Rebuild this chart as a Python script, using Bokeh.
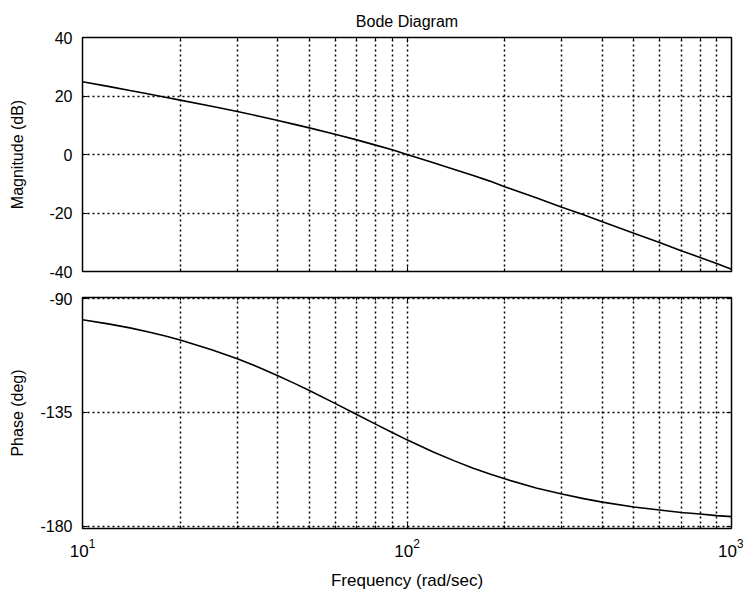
from bokeh.plotting import figure
from bokeh.layouts import column
from bokeh.models import (Range1d, FixedTicker, LinearAxis, CustomJSTickFormatter,
                          CustomLabelingPolicy)
from bokeh.embed import file_html
from bokeh.resources import INLINE

# Data
freq = [10, 12, 14, 16, 18, 20, 25, 30, 35, 40, 45, 50, 60, 70, 80, 90, 100,
        120, 140, 160, 180, 200, 250, 300, 350, 400, 500, 600, 700, 800, 900, 1000]
magnitude_db = [24.9, 23.3, 21.9, 20.7, 19.6, 18.6, 16.5, 14.7, 13.1, 11.6, 10.3,
                9.1, 6.9, 5.0, 3.2, 1.6, 0.0, -2.7, -5.1, -7.2, -9.1, -11.0,
                -14.8, -18.0, -20.6, -23.0, -26.9, -30.1, -32.9, -35.2, -37.3, -39.2]
phase_deg = [-98.4, -100.0, -101.6, -103.2, -104.8, -106.4, -110.2, -113.8,
             -117.2, -120.5, -123.5, -126.3, -131.4, -135.8, -139.6, -142.9,
             -145.8, -150.5, -154.1, -157.0, -159.3, -161.2, -164.8, -167.2,
             -169.0, -170.4, -172.3, -173.5, -174.5, -175.1, -175.7, -176.1]

x_major = [10, 100, 1000]
x_minor = [20, 30, 40, 50, 60, 70, 80, 90, 200, 300, 400, 500, 600, 700, 800, 900]
mag_ticks = [-40, -20, 0, 20, 40]
phase_ticks = [-180, -135, -90]

FONT = "Liberation Sans"
FS = "16px"
W = 743


def no_labels(ax):
    ax.formatter = CustomJSTickFormatter(code="return ''")
    ax.major_label_policy = CustomLabelingPolicy(code="return new Set()")
    ax.major_label_standoff = 0


def hidden_axis(ticks, minor=None):
    ax = LinearAxis(ticker=FixedTicker(ticks=ticks, minor_ticks=minor or []))
    no_labels(ax)
    return ax


def style(p, yticks, show_x_labels, ylabel_standoff):
    p.outline_line_color = "black"
    p.outline_line_width = 1.5
    p.outline_line_alpha = 1
    p.background_fill_color = "white"
    p.border_fill_color = "white"
    p.xaxis.ticker = FixedTicker(ticks=x_major, minor_ticks=x_minor)
    p.yaxis.ticker = FixedTicker(ticks=yticks)
    p.yaxis.major_label_overrides = {t: str(t) for t in yticks}
    p.add_layout(hidden_axis(x_major, x_minor), "above")
    p.add_layout(hidden_axis(yticks), "right")
    for ax in p.axis:
        ax.major_tick_in = 5
        ax.major_tick_out = 0
        ax.minor_tick_in = 3
        ax.minor_tick_out = 0
        ax.axis_line_color = "black"
        ax.major_tick_line_color = "black"
        ax.minor_tick_line_color = "black"
        ax.major_label_text_font = FONT
        ax.major_label_text_font_size = FS
        ax.major_label_text_color = "black"
        ax.axis_label_text_font = FONT
        ax.axis_label_text_font_size = FS
        ax.axis_label_text_font_style = "normal"
        ax.axis_label_text_color = "black"
    p.yaxis[0].major_label_standoff = 10
    p.yaxis[0].axis_label_standoff = ylabel_standoff
    if show_x_labels:
        p.below[0].major_label_text_font_size = "17px"
        p.below[0].axis_label_text_font_size = "17px"
        p.below[0].major_label_standoff = 10
        p.below[0].axis_label_standoff = 11
    else:
        no_labels(p.below[0])
    for g in (p.xgrid, p.ygrid):
        g.grid_line_color = "black"
        g.grid_line_dash = "2 3"
        g.grid_line_width = 1.5
    p.xgrid.minor_grid_line_color = "black"
    p.xgrid.minor_grid_line_dash = "2 3"
    p.xgrid.minor_grid_line_width = 1.5


p1 = figure(width=W, height=284, x_axis_type="log",
            x_range=Range1d(10, 1000), y_range=Range1d(-40, 40),
            output_backend="svg", toolbar_location=None,
            min_border_left=82, min_border_right=12,
            min_border_top=37, min_border_bottom=13,
            title="Bode Diagram")
p1.title.align = "center"
p1.title.text_font = FONT
p1.title.text_font_size = FS
p1.title.text_font_style = "normal"
p1.title.text_color = "black"
p1.title.standoff = 16
p1.yaxis.axis_label = "Magnitude (dB)"
style(p1, mag_ticks, False, 20)
p1.line(freq, magnitude_db, line_color="black", line_width=1.6)

p2 = figure(width=W, height=309, x_axis_type="log",
            x_range=Range1d(10, 1000), y_range=Range1d(-180.8, -89.6),
            output_backend="svg", toolbar_location=None,
            min_border_left=82, min_border_right=12,
            min_border_top=13, min_border_bottom=65)
p2.yaxis.axis_label = "Phase (deg)"
p2.xaxis.axis_label = "Frequency (rad/sec)"
style(p2, phase_ticks, True, 11)
p2.line(freq, phase_deg, line_color="black", line_width=1.6)

layout = column(p1, p2, spacing=0)
open("out.html", "w").write(file_html(layout, INLINE))
